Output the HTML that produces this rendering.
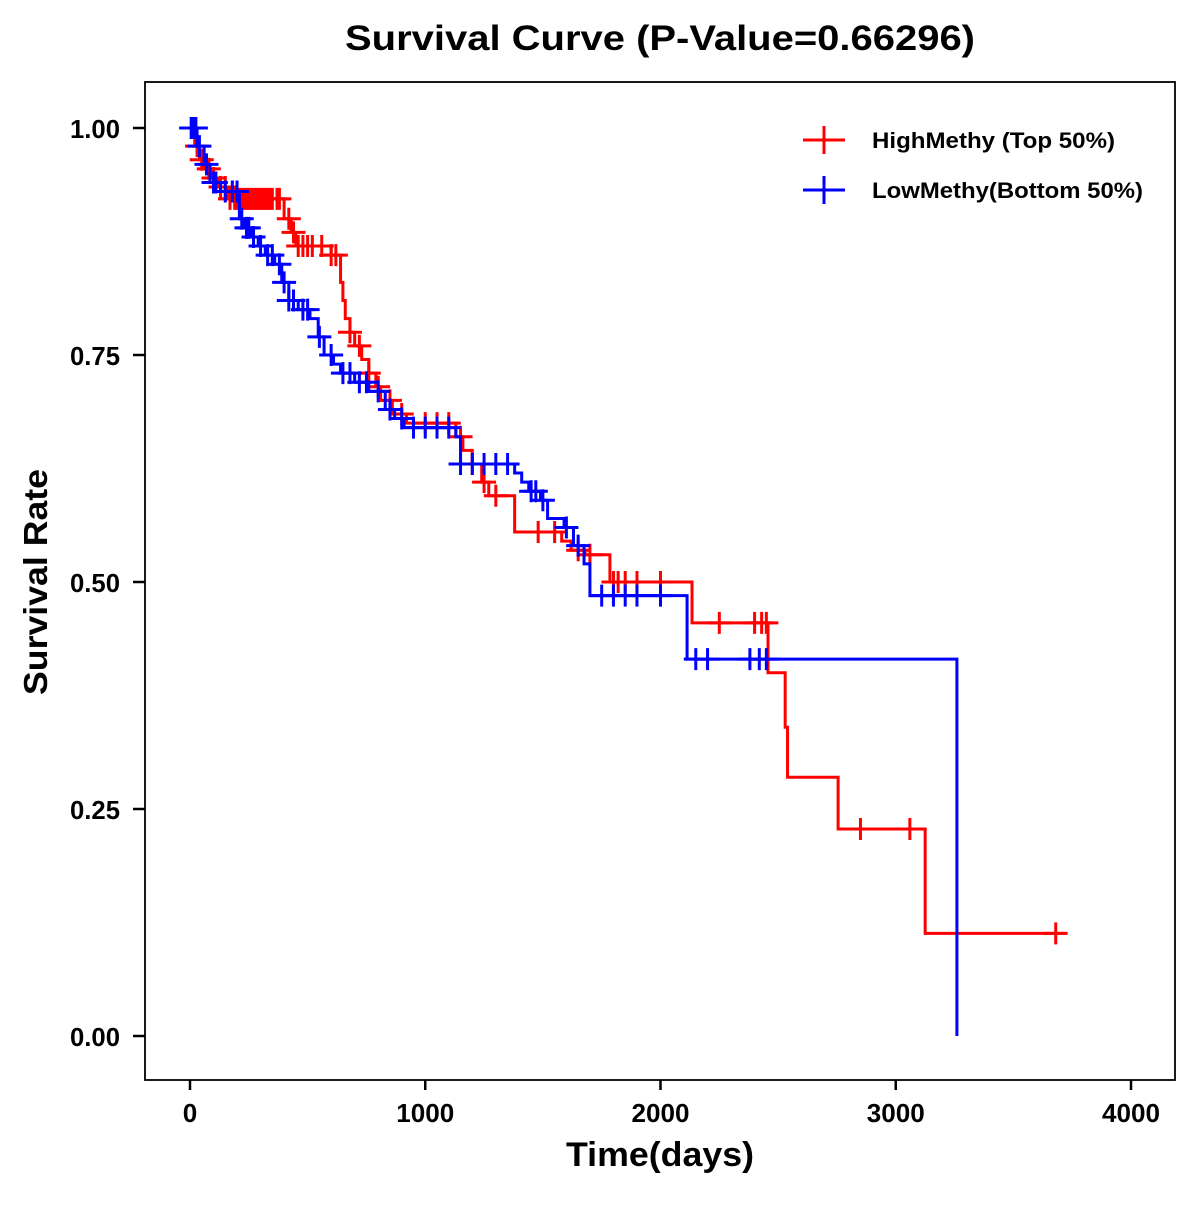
<!DOCTYPE html>
<html><head><meta charset="utf-8"><style>
body{margin:0;background:#fff;}
svg text{font-family:"Liberation Sans",Arial,sans-serif;font-weight:bold;}
</style></head><body>
<svg id="chart" width="1200" height="1200" xmlns="http://www.w3.org/2000/svg">
<text x="660" y="50" font-size="35" text-anchor="middle" textLength="630" lengthAdjust="spacingAndGlyphs">Survival Curve (P-Value=0.66296)</text>
<rect x="145" y="82" width="1030" height="998" fill="none" stroke="#000" stroke-width="1.8"/>
<g id="axes"></g>
<g id="marks"></g>
<text x="660" y="1166" font-size="34" text-anchor="middle" textLength="188" lengthAdjust="spacingAndGlyphs">Time(days)</text>
<text x="0" y="0" font-size="33" text-anchor="middle" textLength="226" lengthAdjust="spacingAndGlyphs" transform="translate(47,582) rotate(-90)">Survival Rate</text>
<g>
<g>
<line x1="803" y1="140" x2="845" y2="140" stroke="#f00" stroke-width="3"/><line x1="824" y1="126" x2="824" y2="154" stroke="#f00" stroke-width="3"/>
<text x="872" y="148" font-size="22" textLength="243" lengthAdjust="spacingAndGlyphs">HighMethy (Top 50%)</text></g>
<g>
<line x1="803" y1="190" x2="845" y2="190" stroke="#00f" stroke-width="3"/><line x1="824" y1="176" x2="824" y2="204" stroke="#00f" stroke-width="3"/>
<text x="872" y="198" font-size="22" textLength="271" lengthAdjust="spacingAndGlyphs">LowMethy(Bottom 50%)</text></g>
</g>
</svg>
<script>
const xTicks=[0,1000,2000,3000,4000];
const yTicks=[0,0.25,0.5,0.75,1.0];
const yTickLabels=["0.00","0.25","0.50","0.75","1.00"];
const highTimes=[0,20,40,60,90,120,160,400,430,450,600,640,650,660,680,700,730,760,790,810,860,920,1130,1160,1200,1240,1270,1380,1580,1620,1680,1785,2134,2457,2530,2540,2755,3125];
const highSurv=[1.0,0.98,0.965,0.955,0.945,0.935,0.922,0.90,0.885,0.87,0.86,0.83,0.81,0.79,0.775,0.76,0.745,0.73,0.715,0.70,0.685,0.675,0.66,0.645,0.63,0.61,0.595,0.555,0.545,0.535,0.53,0.50,0.455,0.40,0.34,0.285,0.228,0.113];
const highEnd=3720;
const highCensor=[10,30,50,80,100,130,150,170,190,200,210,220,230,240,250,260,270,280,290,300,310,320,330,340,350,370,380,420,440,460,480,500,520,560,600,620,680,720,760,800,850,900,1000,1050,1100,1150,1200,1250,1300,1480,1550,1650,1700,1800,1820,1850,1900,2000,2250,2400,2430,2450,2850,3060,3680];
const lowTimes=[0,30,60,85,130,210,230,260,290,320,360,390,420,460,510,545,570,610,640,700,760,830,870,910,1130,1150,1380,1410,1440,1490,1520,1590,1630,1675,1700,2113,3260];
const lowSurv=[1.0,0.98,0.96,0.94,0.93,0.90,0.89,0.88,0.87,0.86,0.85,0.83,0.81,0.80,0.79,0.77,0.75,0.74,0.73,0.72,0.71,0.69,0.68,0.67,0.66,0.63,0.62,0.61,0.60,0.59,0.57,0.56,0.54,0.52,0.485,0.415,0.0];
const lowEnd=3260;
const lowCensor=[5,15,25,40,70,100,110,150,180,200,220,240,250,270,300,330,350,380,400,420,440,480,500,550,600,650,680,720,750,800,850,900,950,1000,1050,1100,1150,1200,1250,1300,1350,1450,1470,1500,1600,1650,1750,1800,1850,1900,2000,2150,2200,2380,2420,2450];

const NS="http://www.w3.org/2000/svg";
const xs=d=>190+d*(941/4000);
const ys=s=>1036-s*908;
function mk(tag,attrs,parent){const e=document.createElementNS(NS,tag);for(const k in attrs)e.setAttribute(k,attrs[k]);parent.appendChild(e);return e;}
const axes=document.getElementById('axes'),marks=document.getElementById('marks');
xTicks.forEach(t=>{
  const l=mk('line',{x1:xs(t),x2:xs(t),y1:1080,y2:1090,stroke:'#000','stroke-width':2.5},axes);
  
  
  const s=String(t);
  const tx=mk('text',{x:xs(t),y:1122,'font-size':26,'text-anchor':'middle',textLength:s.length*14.5,lengthAdjust:'spacingAndGlyphs'},axes);tx.textContent=s;
  
  
});
yTicks.forEach((t,i)=>{
  const l=mk('line',{x1:133,x2:145,y1:ys(t),y2:ys(t),stroke:'#000','stroke-width':2.5},axes);
  
  
  const tx=mk('text',{x:120,y:ys(t)+10,'font-size':26,'text-anchor':'end',textLength:50,lengthAdjust:'spacingAndGlyphs'},axes);tx.textContent=yTickLabels[i];
  
  
});
function survAt(times,surv,t){let s=surv[0];for(let i=0;i<times.length;i++){if(times[i]<=t)s=surv[i];}return s;}
function drawSeries(times,surv,end,cens,color,name){
  let d='M'+xs(times[0])+','+ys(surv[0]);
  for(let i=1;i<times.length;i++){d+='H'+xs(times[i])+'V'+ys(surv[i]);}
  d+='H'+xs(end);
  const p=mk('path',{d:d,fill:'none',stroke:color,'stroke-width':3},marks);
  
  
  cens.forEach(c=>{
    const s=survAt(times,surv,c),x=xs(c),y=ys(s);
    const g=mk('path',{d:`M${x-12},${y}H${x+12}M${x},${y-11}V${y+11}`,stroke:color,'stroke-width':3,fill:'none'},marks);
    
    
  });
}
drawSeries(highTimes,highSurv,highEnd,highCensor,'#f00','high-methy');
drawSeries(lowTimes,lowSurv,lowEnd,lowCensor,'#00f','low-methy');
</script>
</body></html>
